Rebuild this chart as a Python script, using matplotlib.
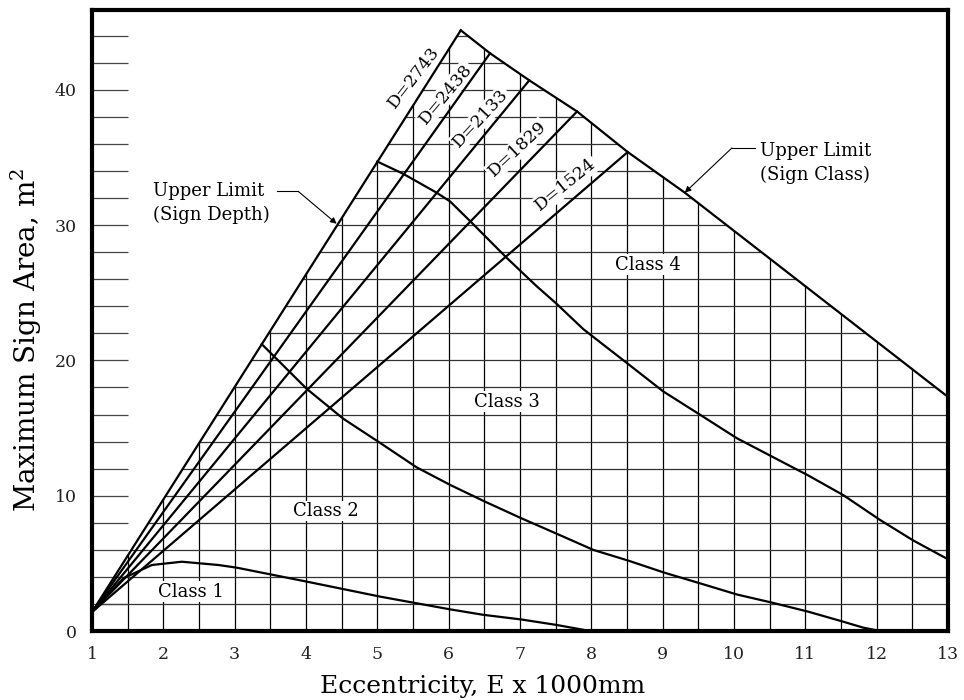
# Maximum sign area vs eccentricity chart
import numpy as np
import matplotlib.pyplot as plt
from matplotlib.patches import Polygon
from matplotlib.collections import LineCollection

plt.rcParams['font.family'] = ['DejaVu Serif']
plt.rcParams['mathtext.fontset'] = 'dejavuserif'

# data (E x 1000mm, area m2)
origin = (1.0, 1.4)

depth_labels = ['D=2743', 'D=2438', 'D=2133', 'D=1829', 'D=1524']
depth_end_e = [6.17, 6.58, 7.13, 7.80, 8.51]
depth_end_a = [44.4, 42.7, 40.7, 38.4, 35.4]

# upper limit (sign class) line, from the peak down to E=13
limit_e = [6.17, 6.58, 7.13, 7.80, 8.51, 9.31, 13.0]
limit_a = [44.4, 42.7, 40.7, 38.4, 35.4, 32.4, 17.3]

class1_e = [1.0, 1.44, 1.84, 2.26, 2.77, 3.03, 4.01, 5.04, 6.02, 6.48, 7.02, 7.51, 7.98]
class1_a = [1.4, 3.9, 4.88, 5.12, 4.88, 4.68, 3.65, 2.54, 1.6, 1.2, 0.85, 0.45, 0.0]

class2_e = [3.38, 4.01, 4.52, 5.04, 5.55, 6.02, 6.51, 7.02, 7.51, 8.03, 8.52, 9.03,
            9.52, 10.04, 10.53, 11.04, 11.53, 11.81, 12.05]
class2_a = [21.2, 17.9, 15.7, 13.9, 12.1, 10.8, 9.56, 8.33, 7.2, 5.99, 5.2, 4.3,
            3.53, 2.7, 2.1, 1.43, 0.69, 0.25, 0.0]

class3_e = [5.0, 5.36, 5.83, 6.02, 6.30, 6.81, 7.23, 7.51, 7.89, 8.5, 9.01, 9.52,
            10.04, 10.53, 11.04, 11.53, 12.05, 12.51, 13.0]
class3_a = [34.7, 33.8, 32.4, 31.75, 30.3, 27.6, 25.5, 24.2, 22.3, 19.8, 17.7, 16.0,
            14.25, 12.9, 11.5, 10.05, 8.2, 6.7, 5.3]

class_names = ['Class 1', 'Class 2', 'Class 3', 'Class 4']
class_pos = [(2.38, 2.9), (4.28, 8.87), (6.81, 16.95), (8.79, 27.06)]

fig = plt.figure(figsize=(9.64, 7.0), dpi=100)
ax = fig.add_axes([92/964, 69/700, 856/964, 621/700])
ax.set_xlim(1, 13)
ax.set_ylim(0, 45.9)

# region under the two upper limits, grid is only drawn in there
env = [(1, 0), origin] + list(zip(limit_e, limit_a)) + [(13, 0)]
clip = Polygon(env, closed=True, transform=ax.transData, fill=False, lw=0)
ax.add_patch(clip)

xs = np.arange(1.5, 13, 0.5)
ys = np.arange(2, 45, 2)
vl = LineCollection([[(x, 0), (x, 46)] for x in xs], colors='black', linewidths=0.9, zorder=1)
hl = LineCollection([[(1, y), (13, y)] for y in ys], colors='#333333', linewidths=0.9, zorder=1)
vl.set_clip_path(clip)
hl.set_clip_path(clip)
ax.add_collection(vl)
ax.add_collection(hl)
# short strip at the left edge
ax.hlines(ys, 1, 1.5, colors='#444444', linewidth=0.9, zorder=1)

lw = 1.6
for e, a in zip(depth_end_e, depth_end_a):
    ax.plot([origin[0], e], [origin[1], a], color='black', lw=lw, zorder=3)
ax.plot(limit_e, limit_a, color='black', lw=lw, zorder=3)
ax.plot(class1_e, class1_a, color='black', lw=lw, zorder=3)
ax.plot(class2_e, class2_a, color='black', lw=lw, zorder=3)
ax.plot(class3_e, class3_a, color='black', lw=lw, zorder=3)

# D labels along the depth lines
d_pos = [(5.51, 40.9), (5.96, 39.7), (6.45, 37.9), (6.96, 35.6), (7.64, 33.0)]
d_rot = [52, 50, 47, 43, 39]
for lab, (x, y), r in zip(depth_labels, d_pos, d_rot):
    ax.text(x, y, lab, rotation=r, ha='center', va='center', fontsize=12.5,
            bbox=dict(facecolor='white', edgecolor='none', pad=1), zorder=2)

for name, (x, y) in zip(class_names, class_pos):
    ax.text(x, y, name, ha='center', va='center', fontsize=13,
            bbox=dict(facecolor='white', edgecolor='none', pad=1), zorder=2)

# leaders
ax.text(1.86, 31.6, 'Upper Limit\n(Sign Depth)', ha='left', va='center', fontsize=13,
        linespacing=1.4)
ax.plot([3.59, 3.89], [32.5, 32.5], color='black', lw=0.8, zorder=4)
ax.annotate('', xy=(4.43, 30.1), xytext=(3.89, 32.5),
            arrowprops=dict(arrowstyle='-|>', lw=0.8, color='black', mutation_scale=9,
                            shrinkA=0, shrinkB=0), zorder=4)

ax.text(10.37, 34.6, 'Upper Limit\n(Sign Class)', ha='left', va='center', fontsize=13,
        linespacing=1.35)
ax.plot([9.97, 10.3], [35.7, 35.7], color='black', lw=0.8, zorder=4)
ax.annotate('', xy=(9.31, 32.4), xytext=(9.97, 35.7),
            arrowprops=dict(arrowstyle='-|>', lw=0.8, color='black', mutation_scale=9,
                            shrinkA=0, shrinkB=0), zorder=4)

ax.set_xticks(range(1, 14))
ax.set_yticks([0, 10, 20, 30, 40])
ax.tick_params(length=0, labelsize=12.5, colors='#222222')
ax.tick_params(axis='x', pad=11)
ax.tick_params(axis='y', pad=11)
for s in ax.spines.values():
    s.set_linewidth(3)
    s.set_color('black')

fig.text(483/964, 1 - 693/700, 'Eccentricity, E x 1000mm', ha='center', va='baseline',
         fontsize=18)
fig.text(26/964, 1 - 340/700, 'Maximum Sign Area, m$^2$', rotation=90, ha='center',
         va='center', fontsize=20)

fig.savefig('out.png', dpi=100)
